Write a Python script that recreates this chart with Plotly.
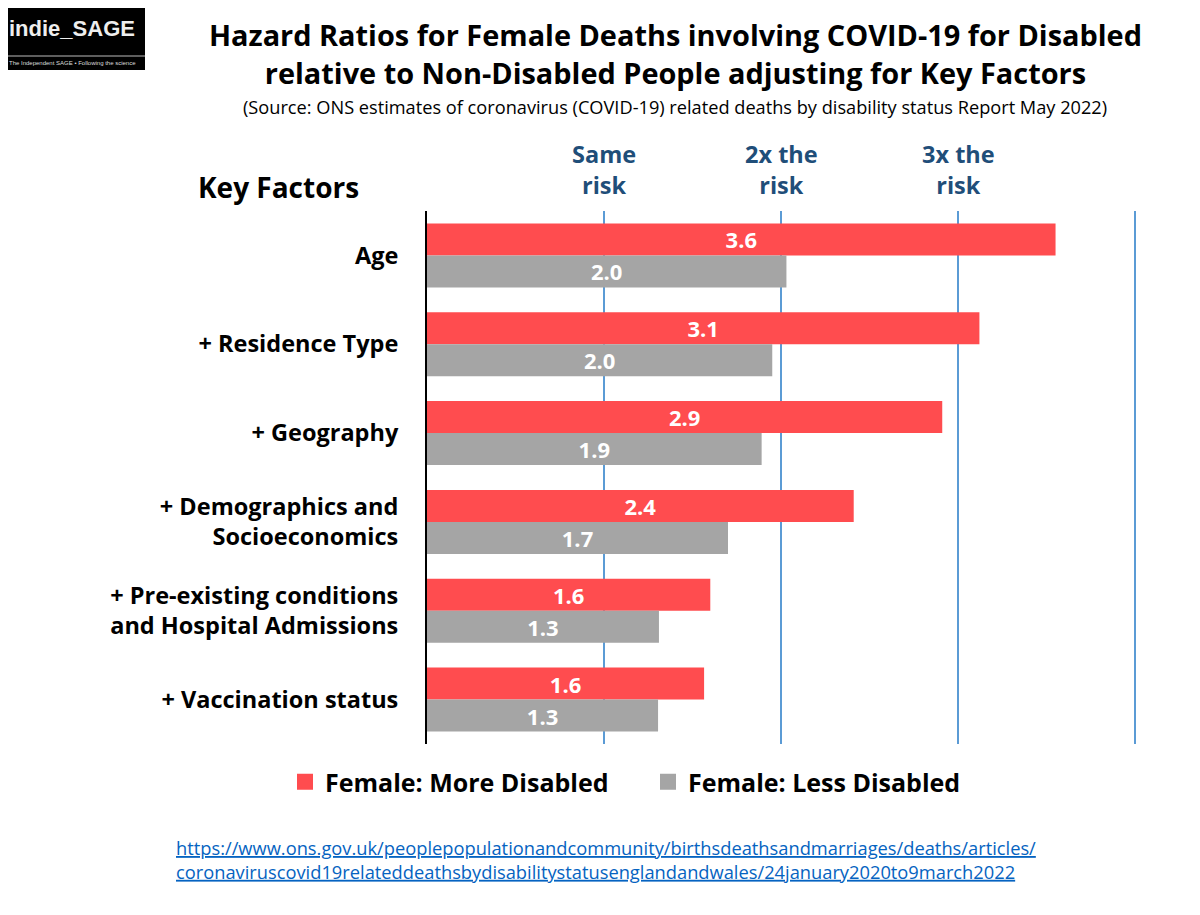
import plotly.graph_objects as go

categories = ["Age", "+ Residence Type", "+ Geography",
              "+ Demographics and<br>Socioeconomics",
              "+ Pre-existing conditions<br>and Hospital Admissions",
              "+ Vaccination status"]
more_disabled = [3.55, 3.12, 2.91, 2.41, 1.60, 1.565]
more_labels = ["3.6", "3.1", "2.9", "2.4", "1.6", "1.6"]
less_disabled = [2.03, 1.95, 1.89, 1.70, 1.31, 1.305]
less_labels = ["2.0", "2.0", "1.9", "1.7", "1.3", "1.3"]
risk_ticks = [1, 2, 3]
risk_labels = ["Same<br>risk", "2x the<br>risk", "3x the<br>risk"]
series_names = ["Female: More Disabled", "Female: Less Disabled"]

RED = "#FF4C4F"
GRAY = "#A5A5A5"
FONT = "Open Sans"

OFF = 8  # page offset of the figure inside the browser window
W, H = 1200, 915
L, R, T, B = 419, 71, 203, 179
PW, PH = W - L - R, H - T - B


def px(x):
    return (x - OFF - L) / PW


def py(y):
    return (H - B - (y - OFF)) / PH


fig = go.Figure()
for vals, labs, col, name in [(more_disabled, more_labels, RED, series_names[0]),
                              (less_disabled, less_labels, GRAY, series_names[1])]:
    fig.add_trace(go.Bar(
        y=categories, x=vals, orientation="h", name=name, showlegend=False,
        marker=dict(color=col, line=dict(width=0)), text=labs,
        textposition="inside", insidetextanchor="middle", constraintext="none",
        textfont=dict(color="white", size=22, family=FONT, weight="bold"),
        hoverinfo="skip"))
for col, name in [(RED, series_names[0]), (GRAY, series_names[1])]:
    fig.add_trace(go.Scatter(
        x=[None], y=[None], mode="markers", name=name,
        marker=dict(symbol="square", size=17, color=col), hoverinfo="skip"))

fig.update_layout(
    width=W, height=H, margin=dict(l=L, r=R, t=T, b=B),
    paper_bgcolor="white", plot_bgcolor="white",
    barmode="group", bargap=0.28, bargroupgap=0,
    font=dict(family=FONT, color="black"),
    showlegend=True,
    legend=dict(orientation="h", x=px(285), y=py(759), xanchor="left", yanchor="top",
                font=dict(size=25, family=FONT, color="black", weight="bold"),
                itemsizing="trace", entrywidth=318, traceorder="normal",
                itemwidth=30),
    xaxis=dict(range=[0, 4.01], tickvals=[0, 1, 2, 3, 4], showticklabels=False,
               showgrid=True, gridcolor="#5B9BD5", gridwidth=1.5, zeroline=False,
               showline=False, fixedrange=True),
    yaxis=dict(autorange="reversed", showline=True, linecolor="black", linewidth=2,
               ticks="outside", ticklen=0, ticklabelstandoff=22,
               tickfont=dict(size=23.5, family=FONT, color="black", weight="bold"),
               showgrid=False),
)

for v, lab in zip(risk_ticks, risk_labels):
    fig.add_annotation(x=v, xref="x", y=py(203), yref="paper", text=lab,
                       showarrow=False, yanchor="bottom", align="center",
                       font=dict(size=23.5, family=FONT, color="#1F4E79", weight="bold"))

# Title and subtitle
fig.add_annotation(x=px(675), y=py(53), xref="paper", yref="paper",
                   text="Hazard Ratios for Female Deaths involving COVID-19 for Disabled<br>relative to Non-Disabled People adjusting for Key Factors",
                   showarrow=False, align="center", xanchor="center", yanchor="middle",
                   font=dict(size=28.9, family=FONT, color="black", weight="bold"))
fig.add_annotation(x=px(675), y=py(107), xref="paper", yref="paper",
                   text="(Source: ONS estimates of coronavirus (COVID-19) related deaths by disability status Report May 2022)",
                   showarrow=False, xanchor="center", yanchor="middle",
                   font=dict(size=18.2, family=FONT, color="black"))
fig.add_annotation(x=px(196), y=py(187), xref="paper", yref="paper",
                   text="Key Factors", showarrow=False, xanchor="left", yanchor="middle",
                   font=dict(size=28, family=FONT, color="black", weight="bold"))

# Link
fig.add_annotation(x=px(174), y=py(859), xref="paper", yref="paper",
                   text="<u>https://www.ons.gov.uk/peoplepopulationandcommunity/birthsdeathsandmarriages/deaths/articles/</u><br><u>coronaviruscovid19relateddeathsbydisabilitystatusenglandandwales/24january2020to9march2022</u>",
                   showarrow=False, xanchor="left", yanchor="middle", align="left",
                   font=dict(size=18.3, family=FONT, color="#0563C1"))

# Logo
fig.add_shape(type="rect", xref="paper", yref="paper", x0=px(0), x1=px(145),
              y0=py(0), y1=py(70), fillcolor="black", line=dict(width=0), layer="above")
fig.add_shape(type="line", xref="paper", yref="paper", x0=px(5), x1=px(145),
              y0=py(56), y1=py(56), line=dict(color="#BBBBBB", width=1), layer="above")
fig.add_annotation(x=px(7), y=py(29), xref="paper", yref="paper", text="indie_SAGE",
                   showarrow=False, xanchor="left", yanchor="middle",
                   font=dict(size=22, family="Liberation Sans", color="#EEEEEE", weight="bold"))
fig.add_annotation(x=px(7), y=py(63), xref="paper", yref="paper",
                   text="The Independent SAGE • Following the science",
                   showarrow=False, xanchor="left", yanchor="middle",
                   font=dict(size=6, family="Liberation Sans", color="#DDDDDD"))

fig.write_html("out.html")
